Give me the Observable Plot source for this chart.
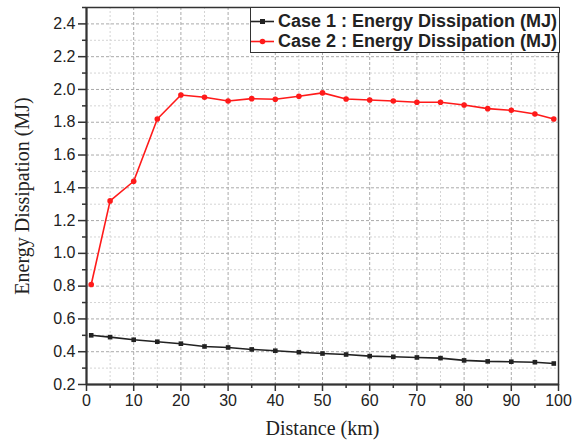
<!DOCTYPE html>
<html><head><meta charset="utf-8">
<script src="https://cdn.jsdelivr.net/npm/d3@7"></script>
<script src="https://cdn.jsdelivr.net/npm/@observablehq/plot@0.6"></script>
<style>
body{margin:0;background:#fff}
#wrap{position:relative;width:572px;height:445px}
#legend{position:absolute;left:250px;top:7px;width:308px;height:44px;border:1.5px solid #333;background:#fff;
  font-family:"Liberation Sans",Arial,sans-serif;font-weight:bold;font-size:18px;color:#222}
#legend .row{position:absolute;left:0;height:21px;display:flex;align-items:center}
#legend svg{display:block}
</style>
</head><body><div id="wrap"></div>
<script>
const distance = [1,5,10,15,20,25,30,35,40,45,50,55,60,65,70,75,80,85,90,95,99];
const case1 = [0.50,0.489,0.473,0.461,0.449,0.432,0.426,0.414,0.406,0.397,0.389,0.383,0.373,0.369,0.365,0.361,0.347,0.341,0.339,0.336,0.328];
const case2 = [0.81,1.32,1.44,1.82,1.966,1.952,1.93,1.944,1.94,1.959,1.979,1.942,1.936,1.93,1.922,1.922,1.905,1.883,1.873,1.85,1.82];
const seriesNames = ["Case 1 : Energy Dissipation (MJ)", "Case 2 : Energy Dissipation (MJ)"];
const seriesColors = ["#222222", "#ff1a1a"];
const xTicks = [0,10,20,30,40,50,60,70,80,90,100];
const xMinor = [5,15,25,35,45,55,65,75,85,95];
const yTicks = [0.2,0.4,0.6,0.8,1.0,1.2,1.4,1.6,1.8,2.0,2.2,2.4];
const yMinor = [0.3,0.5,0.7,0.9,1.1,1.3,1.5,1.7,1.9,2.1,2.3,2.5];
const xLabel = "Distance (km)";
const yLabel = "Energy Dissipation (MJ)";

const d1 = distance.map((d,i)=>({x:d,y:case1[i]}));
const d2 = distance.map((d,i)=>({x:d,y:case2[i]}));

const chart = Plot.plot({
  width: 572, height: 445,
  marginLeft: 86, marginRight: 14, marginTop: 7, marginBottom: 61,
  style: {fontFamily: '"Liberation Sans", Arial, sans-serif', fontSize: "16px", color: "#222", background: "#fff"},
  x: {domain: [0,100]},
  y: {domain: [0.2,2.5]},
  marks: [
    Plot.ruleX(xMinor, {stroke:"#d4d4d4", strokeDasharray:"2,2"}),
    Plot.ruleX(xTicks.slice(1,-1), {stroke:"#aaa", strokeDasharray:"3,2"}),
    Plot.ruleY(yMinor.slice(0,-1), {stroke:"#d4d4d4", strokeDasharray:"2,2"}),
    Plot.ruleY(yTicks.slice(1), {stroke:"#aaa", strokeDasharray:"3,2"}),
    Plot.frame({stroke:"#333", strokeWidth:1.5}),
    Plot.ruleX([0], {stroke:"#333", strokeWidth:2}),
    Plot.ruleY([0.2], {stroke:"#333", strokeWidth:2}),
    Plot.axisX({ticks: xTicks, tickSize: 7, tickPadding: 3, label: null, tickFormat: d3.format("d"), stroke:"#333", strokeWidth:1.5}),
    Plot.axisX({ticks: xMinor, tickSize: 4, text: null, label: null, stroke:"#333", strokeWidth:1.5}),
    Plot.axisY({ticks: yTicks, tickSize: 8, tickPadding: 3, label: null, tickFormat: d3.format(".1f"), stroke:"#333", strokeWidth:1.5}),
    Plot.axisY({ticks: yMinor, tickSize: 4, text: null, label: null, stroke:"#333", strokeWidth:1.5}),
    Plot.line(d1, {x:"x", y:"y", stroke: seriesColors[0], strokeWidth: 1.6}),
    Plot.dot(d1, {x:"x", y:"y", symbol:"square", r: 2.6, fill: seriesColors[0]}),
    Plot.line(d2, {x:"x", y:"y", stroke: seriesColors[1], strokeWidth: 1.6}),
    Plot.dot(d2, {x:"x", y:"y", r: 2.8, fill: seriesColors[1]}),
    Plot.text([xLabel], {frameAnchor:"bottom", textAnchor:"middle", dy: 50, fontFamily:'"Liberation Serif", "Times New Roman", serif', fontSize: 20, fill:"#222"}),
    Plot.text([yLabel], {frameAnchor:"left", textAnchor:"middle", rotate: -90, dx: -64, fontFamily:'"Liberation Serif", "Times New Roman", serif', fontSize: 20, fill:"#222"})
  ]
});
const wrap = document.getElementById("wrap");
wrap.appendChild(chart);

const legend = document.createElement("div");
legend.id = "legend";
seriesNames.forEach((name, i) => {
  const row = document.createElement("div");
  row.className = "row";
  row.style.top = (3 + i*20) + "px";
  const sym = i === 0
    ? `<rect x="9" y="8" width="5" height="5" fill="${seriesColors[i]}"/>`
    : `<circle cx="11.5" cy="10.5" r="2.8" fill="${seriesColors[i]}"/>`;
  row.innerHTML = `<svg width="24" height="21"><line x1="0" x2="23" y1="10.5" y2="10.5" stroke="${seriesColors[i]}" stroke-width="1.6"/>${sym}</svg><span style="margin-left:3px">${name}</span>`;
  legend.appendChild(row);
});
wrap.appendChild(legend);
</script>
</body></html>
